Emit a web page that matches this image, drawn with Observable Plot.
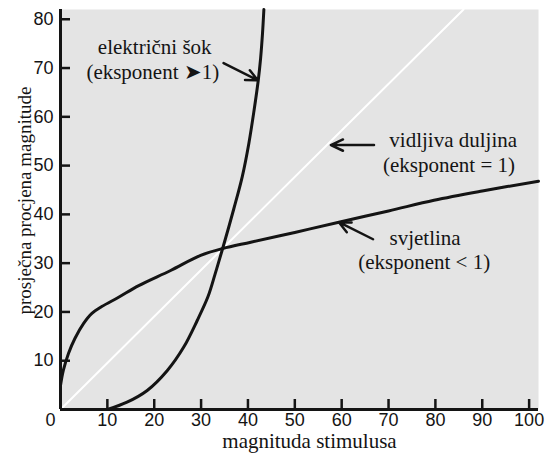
<!DOCTYPE html>
<html>
<head>
<meta charset="utf-8">
<script src="https://cdn.jsdelivr.net/npm/d3@7"></script>
<script src="https://cdn.jsdelivr.net/npm/@observablehq/plot@0.6"></script>
<style>
  html, body { margin: 0; padding: 0; background: #ffffff; }
  #chart svg { display: block; }
</style>
</head>
<body>
<div id="chart"></div>
<script>
// ---- data ----
const shockX = [10, 14.2, 18.5, 22.8, 26.3, 29.2, 31.5, 33, 34.6, 37, 38.8, 40.2, 41.3, 42.2, 42.7, 43.1, 43.4];
const shockY = [0, 1.5, 3.9, 8, 12.8, 18.3, 23.2, 27.8, 33, 41.2, 47.8, 54.6, 61.3, 67.5, 72, 77, 82];

const lightX = [0, 0.6, 1.7, 3.1, 4.9, 6.7, 8.8, 12.4, 16.7, 23.5, 29.9, 34.6, 40.6, 50, 59.4, 70, 79.7, 90, 102];
const lightY = [4.9, 8, 11.5, 14.6, 17.6, 19.7, 21.1, 23, 25.4, 28.5, 31.6, 33, 34.3, 36.3, 38.4, 40.7, 42.9, 44.8, 46.8];

const lengthX = [0, 86];
const lengthY = [0, 82];

const xTicks = [10, 20, 30, 40, 50, 60, 70, 80, 90, 100];
const yTicks = [10, 20, 30, 40, 50, 60, 70, 80];
const originLabel = ["0"];

const labelTexts = ["električni šok", "(eksponent ➤1)", "vidljiva duljina", "(eksponent = 1)", "svjetlina", "(eksponent < 1)"];
const labelX = [20.1, 19.7, 83.8, 82.9, 77.8, 77.6];
const labelY = [74.3, 69.1, 55.2, 50.1, 35.1, 30.2];

const arrowX1 = [34.8, 66.9, 66.7];
const arrowY1 = [71, 54.2, 34.9];
const arrowX2 = [42.1, 57.7, 59.4];
const arrowY2 = [67.5, 54.2, 38.4];

const xTitle = "magnituda stimulusa";
const yTitle = "prosječna procjena magnitude";

// ---- tables built from the arrays ----
const shock = shockX.map((x, i) => ({x, y: shockY[i]}));
const light = lightX.map((x, i) => ({x, y: lightY[i]}));
const lengthLine = lengthX.map((x, i) => ({x, y: lengthY[i]}));
const labels = labelTexts.map((t, i) => ({t, x: labelX[i], y: labelY[i]}));
const arrows = arrowX1.map((x1, i) => ({x1, y1: arrowY1[i], x2: arrowX2[i], y2: arrowY2[i]}));

const ink = "#141414";
const serif = "Liberation Serif";
const sans = "Liberation Sans";

const chart = Plot.plot({
  width: 547,
  height: 455,
  marginLeft: 60,
  marginRight: 9,
  marginTop: 9,
  marginBottom: 46,
  x: {domain: [0, 102], axis: null},
  y: {domain: [0, 82], axis: null},
  marks: [
    Plot.frame({fill: "#e4e4e4", stroke: "none"}),
    Plot.line(lengthLine, {x: "x", y: "y", stroke: "#ffffff", strokeWidth: 2}),
    Plot.line(light, {x: "x", y: "y", stroke: ink, strokeWidth: 3, curve: "catmull-rom"}),
    Plot.line(shock, {x: "x", y: "y", stroke: ink, strokeWidth: 3, curve: "catmull-rom"}),
    Plot.arrow(arrows, {x1: "x1", y1: "y1", x2: "x2", y2: "y2", stroke: ink, strokeWidth: 2.5, headLength: 8, headAngle: 50}),
    Plot.text(labels, {x: "x", y: "y", text: "t", fontFamily: serif, fontSize: 21, fill: ink}),
    // axes
    Plot.ruleX([0], {stroke: ink, strokeWidth: 3}),
    Plot.ruleY([0], {stroke: ink, strokeWidth: 3}),
    Plot.axisX(xTicks, {tickSize: -10, fill: "none", stroke: ink, strokeWidth: 2.5, label: null}),
    Plot.axisX(xTicks, {tickSize: 0, tickPadding: 4, fontFamily: sans, fontSize: 18, fill: ink, label: null}),
    Plot.axisY(yTicks, {tickSize: -10, fill: "none", stroke: ink, strokeWidth: 2.5, label: null}),
    Plot.axisY(yTicks, {tickSize: 0, tickPadding: 7, fontFamily: sans, fontSize: 18, fill: ink, label: null}),
    Plot.text(originLabel, {x: 0, y: 0, text: d => d, dx: -10, dy: 4, lineAnchor: "top", fontFamily: sans, fontSize: 18, fill: ink}),
    Plot.text([xTitle], {frameAnchor: "bottom", text: d => d, dx: 10, dy: 32, lineAnchor: "middle", textAnchor: "middle", fontFamily: serif, fontSize: 21, fill: ink}),
    Plot.text([yTitle], {frameAnchor: "left", text: d => d, dx: -36, dy: -9, rotate: -90, textAnchor: "middle", lineAnchor: "middle", fontFamily: serif, fontSize: 19, fill: ink})
  ]
});
document.getElementById("chart").appendChild(chart);
</script>
</body>
</html>
